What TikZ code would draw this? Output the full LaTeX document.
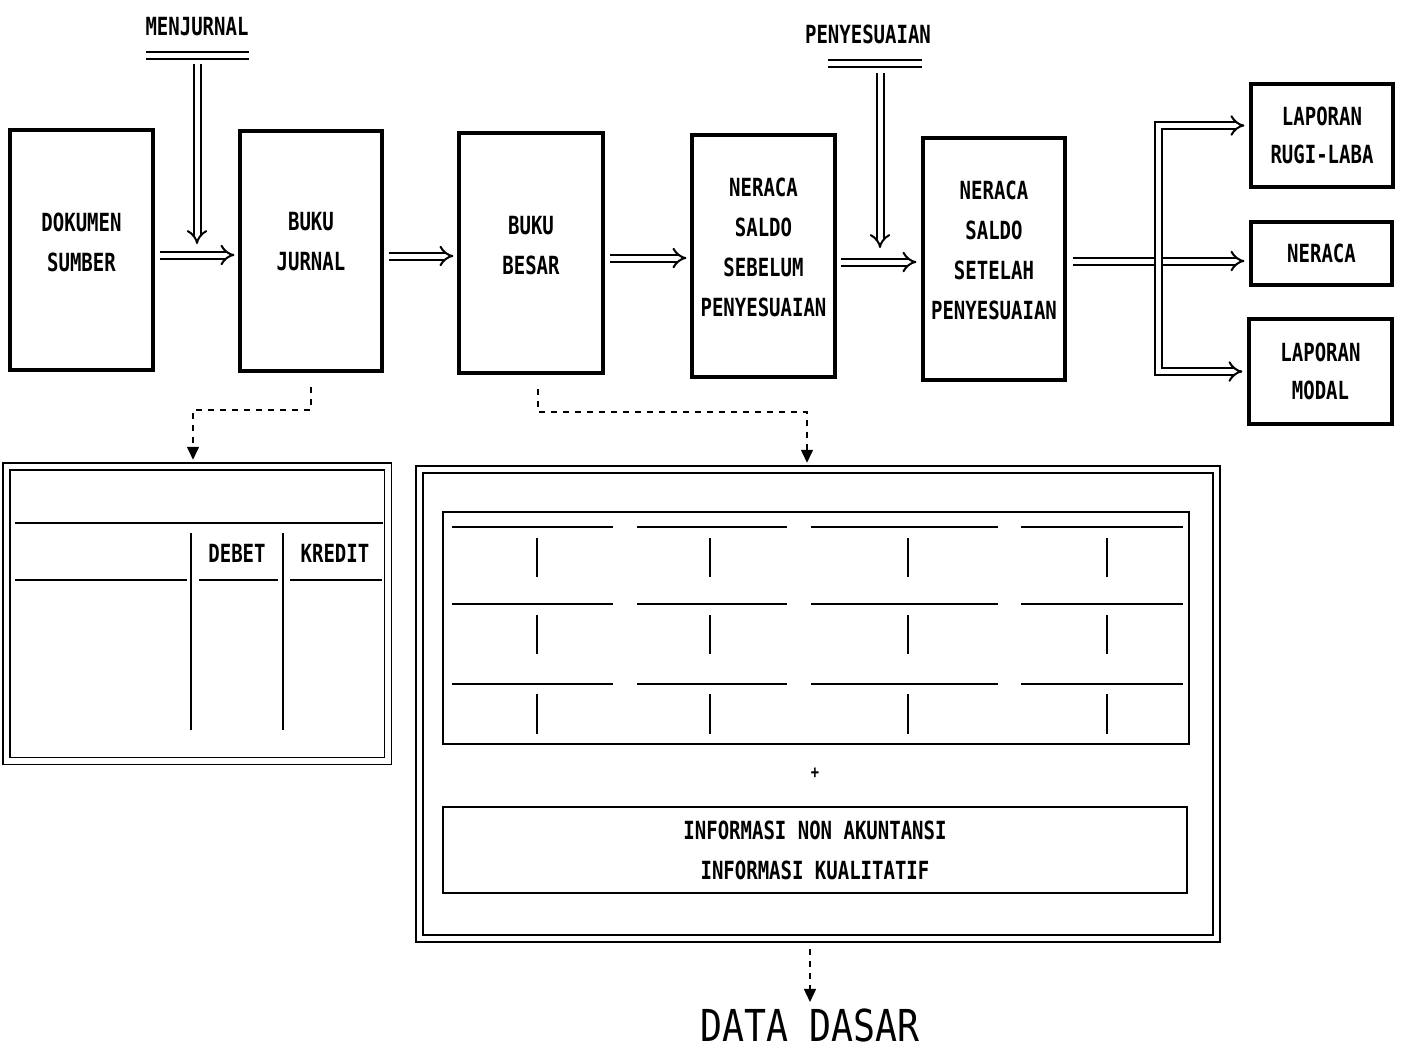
\documentclass[tikz,border=0pt]{standalone}
\usepackage{fontspec}
\usetikzlibrary{arrows.meta}
\newfontfamily\dotfont[FakeStretch=0.76]{DejaVu Sans Mono}
\newfontfamily\ddfont[FakeStretch=0.83]{DejaVu Sans Mono}
\begin{document}
\begin{tikzpicture}[x=0.5pt,y=-0.5pt,
 box/.style={draw, line width=1.6pt, align=center, inner sep=0pt, font=\dotfont\bfseries\fontsize{12.5}{20}\selectfont},
 lbl/.style={font=\dotfont\bfseries\fontsize{12.5}{20}\selectfont, inner sep=0pt, align=center},
 dbl/.style={line width=1pt, double, double distance=2.5pt},
 dblarr/.style={dbl, -{Implies}},
 dsh/.style={line width=0.8pt, dash pattern=on 3pt off 3pt},
 tip/.style={-{Triangle[width=6pt,length=6.5pt]}},
 tline/.style={line width=1pt},
 frame/.style={draw, line width=0.75pt, double, double distance=2.75pt, inner sep=0pt},
]
\useasboundingbox (0,0) rectangle (1404,1049);

% top row boxes
\node[box, minimum width=71.5pt, minimum height=120pt] (dok) at (81.5,250) {};
\node[lbl] (dokt) at (81.5,242) {DOKUMEN\\SUMBER};
\node[box, minimum width=71pt, minimum height=120pt] (bj) at (311,251) {};
\node[lbl] (bjt) at (311,242) {BUKU\\JURNAL};
\node[box, minimum width=72pt, minimum height=120pt] (bb) at (531,253) {};
\node[lbl] (bbt) at (531,246) {BUKU\\BESAR};
\node[box, minimum width=71.5pt, minimum height=121pt] (ns1) at (763.5,256) {};
\node[lbl] (ns1t) at (763.5,247) {NERACA\\SALDO\\SEBELUM\\PENYESUAIAN};
\node[box, minimum width=71pt, minimum height=121pt] (ns2) at (994,259) {};
\node[lbl] (ns2t) at (994,250) {NERACA\\SALDO\\SETELAH\\PENYESUAIAN};

% right boxes
\node[box, minimum width=71pt, minimum height=51.5pt, font=\dotfont\bfseries\fontsize{12.5}{19}\selectfont] (rl) at (1322,135.5) {LAPORAN\\RUGI-LABA};
\node[box, minimum width=70.5pt, minimum height=31.5pt] (ne) at (1321.5,253.5) {NERACA};
\node[box, minimum width=71.5pt, minimum height=52.5pt, font=\dotfont\bfseries\fontsize{12.5}{19}\selectfont] (mo) at (1320.5,371.5) {LAPORAN\\MODAL};

% top labels
\node[lbl] (mj) at (197,27) {MENJURNAL};
\coordinate (mja) at (146,55.5);
\coordinate (mjb) at (249,55.5);
\draw[dbl] (mja) -- (mjb);
\coordinate (mjs) at (197,64);
\coordinate (mje) at (197,244);
\draw[dblarr] (mjs) -- (mje);

\node[lbl] (py) at (868,34) {PENYESUAIAN};
\coordinate (pya) at (828,63);
\coordinate (pyb) at (922,63);
\draw[dbl] (pya) -- (pyb);
\coordinate (pys) at (880,73);
\coordinate (pye) at (880,248);
\draw[dblarr] (pys) -- (pye);

% flow arrows
\draw[dblarr] ([xshift=2.5pt,yshift=-2.5pt]dok.east) -- ([xshift=-2pt,yshift=-2pt]bj.west);
\draw[dblarr] ([xshift=2.5pt,yshift=-2.5pt]bj.east) -- ([xshift=-2pt,yshift=-1.5pt]bb.west);
\draw[dblarr] ([xshift=2.5pt,yshift=-2.5pt]bb.east) -- ([xshift=-2pt,yshift=-1pt]ns1.west);
\draw[dblarr] ([xshift=2pt,yshift=-3pt]ns1.east) -- ([xshift=-2.5pt,yshift=-1.5pt]ns2.west);

% branch
\coordinate (br) at (1158,261);
\draw[dbl] ([xshift=3pt,yshift=-1pt]ns2.east) -- ([xshift=-2.25pt]br);
\draw[dbl, {Implies}-{Implies}] ([xshift=-2.5pt,yshift=5pt]rl.west) -| (br) |- ([xshift=-2.5pt]mo.west);
\draw[dblarr] ([xshift=2.25pt]br) -- ([xshift=-2.5pt,yshift=-3.75pt]ne.west);

% journal table
\node[frame, minimum width=190.75pt, minimum height=147.25pt] (jt) at (197.25,613.75) {};
\draw[tline] (15,523) -- (383,523);
\draw[tline] (15,580) -- (187,580);
\draw[tline] (199,580) -- (278,580);
\draw[tline] (290,580) -- (382,580);
\draw[tline] (191,533) -- (191,730);
\draw[tline] (283,533) -- (283,730);
\node[lbl] (deb) at (237,553) {DEBET};
\node[lbl] (kre) at (335,553) {KREDIT};

\coordinate (jk) at (193,410);
\draw[dsh, tip] ([yshift=-7pt]bj.south) |- (jk) -- ([yshift=3pt]jk |- jt.north);

% big data box
\node[frame, minimum width=398.5pt, minimum height=234.5pt] (big) at (818,704) {};
\node[draw, line width=1pt, minimum width=373pt, minimum height=116pt, inner sep=0pt] (grid) at (816,628) {};
\foreach \y in {527,604,684} {
  \foreach \a/\b in {452/613,637/787,811/998,1021/1183} {
    \draw[tline] (\a,\y) -- (\b,\y);
  }
}
\foreach \y/\z in {538/577,615/654,694/734} {
  \foreach \x in {537,710,908,1107} {
    \draw[tline] (\x,\y) -- (\x,\z);
  }
}
\node[font=\dotfont\bfseries\fontsize{9}{10}\selectfont, inner sep=0pt] (plus) at (815,773) {+};
\node[box, line width=1pt, minimum width=372pt, minimum height=43pt] (info) at (815,850) {INFORMASI NON AKUNTANSI\\INFORMASI KUALITATIF};

\coordinate (bk) at (538,412);
\draw[dsh, tip] ([xshift=3.5pt,yshift=-7pt]bb.south) |- (bk) -| ([xshift=-5.5pt,yshift=3pt]big.north);

% data dasar
\node[font=\ddfont\fontsize{22}{24}\selectfont, inner sep=0pt] (dd) at (810,1025) {DATA DASAR};
\draw[dsh, tip] ([xshift=-4pt,yshift=-5pt]big.south) -- ([yshift=3pt]dd.north);
\end{tikzpicture}
\end{document}
